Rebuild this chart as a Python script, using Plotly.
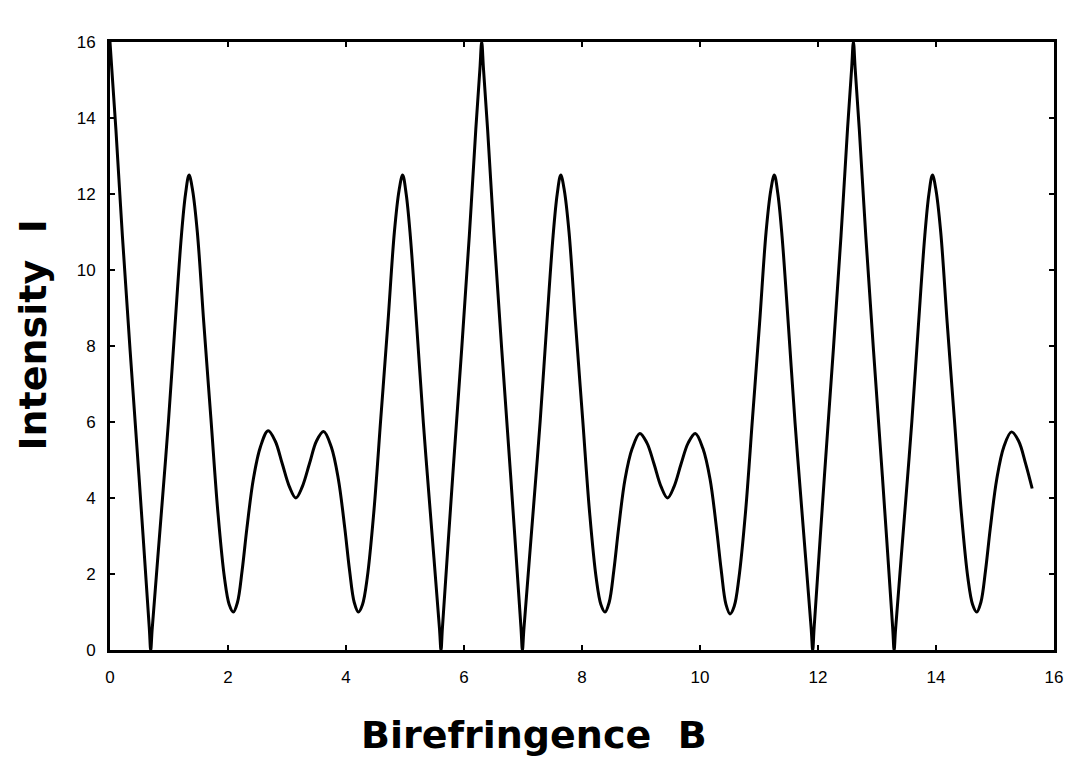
import plotly.graph_objects as go

# Intensity I versus birefringence B
birefringence = [
    0.00, 0.03, 0.10, 0.21, 0.34, 0.49, 0.665, 0.69, 0.715, 0.88, 0.99, 1.10, 1.21, 1.28, 1.34, 1.40, 1.48,
    1.59, 1.71, 1.83, 1.94, 2.02, 2.09, 2.16, 2.24, 2.32, 2.43, 2.55, 2.68, 2.80, 2.92, 3.04, 3.15,
    3.26, 3.38, 3.50, 3.62, 3.75, 3.87, 3.98, 4.06, 4.14, 4.21, 4.28, 4.36, 4.47, 4.59, 4.71, 4.82,
    4.90, 4.96, 5.02, 5.09, 5.20, 5.31, 5.42, 5.585, 5.61, 5.635, 5.81, 5.96, 6.09, 6.20, 6.27, 6.30,
    6.33, 6.40, 6.51, 6.64, 6.79, 6.965, 6.99, 7.015, 7.18, 7.29, 7.40, 7.51, 7.58, 7.64, 7.70, 7.78,
    7.89, 8.01, 8.13, 8.24, 8.32, 8.39, 8.46, 8.54, 8.62, 8.73, 8.85, 8.98, 9.10, 9.22, 9.34, 9.45,
    9.56, 9.68, 9.80, 9.92, 10.05, 10.17, 10.28, 10.36, 10.44, 10.51, 10.58, 10.66, 10.77, 10.89, 11.01, 11.12,
    11.20, 11.26, 11.32, 11.39, 11.50, 11.61, 11.72, 11.885, 11.91, 11.935, 12.11, 12.26, 12.39, 12.50, 12.57, 12.60,
    12.63, 12.70, 12.81, 12.94, 13.09, 13.265, 13.29, 13.315, 13.48, 13.59, 13.70, 13.81, 13.88, 13.94, 14.00, 14.08,
    14.19, 14.31, 14.43, 14.54, 14.62, 14.69, 14.76, 14.84, 14.92, 15.03, 15.15, 15.28, 15.40, 15.52, 15.63,
]
intensity = [
    16.0, 15.3, 13.7, 10.9, 7.9, 4.6, 0.6, 0.0, 0.55, 3.8, 6.0, 8.5, 10.9, 12.0, 12.5, 12.1, 11.0,
    8.6, 6.1, 3.6, 1.9, 1.2, 1.0, 1.25, 2.1, 3.2, 4.5, 5.35, 5.77, 5.5, 4.9, 4.3, 4.0,
    4.3, 4.9, 5.5, 5.75, 5.35, 4.5, 3.2, 2.1, 1.25, 1.0, 1.2, 1.9, 3.6, 6.1, 8.6, 11.0,
    12.1, 12.5, 12.0, 10.9, 8.5, 6.0, 3.8, 0.55, 0.0, 0.6, 4.6, 7.9, 10.9, 13.7, 15.3, 16.0,
    15.3, 13.7, 10.9, 7.9, 4.6, 0.6, 0.0, 0.55, 3.8, 6.0, 8.5, 10.9, 12.0, 12.5, 12.1, 11.0,
    8.6, 6.1, 3.6, 1.9, 1.2, 1.0, 1.25, 2.1, 3.2, 4.5, 5.3, 5.7, 5.45, 4.9, 4.3, 4.0,
    4.3, 4.9, 5.45, 5.7, 5.3, 4.5, 3.2, 2.1, 1.2, 0.95, 1.15, 1.9, 3.6, 6.1, 8.6, 11.0,
    12.1, 12.5, 12.0, 10.9, 8.5, 6.0, 3.8, 0.55, 0.0, 0.6, 4.6, 7.9, 10.9, 13.7, 15.3, 16.0,
    15.3, 13.7, 10.9, 7.9, 4.6, 0.6, 0.0, 0.55, 3.8, 6.0, 8.5, 10.9, 12.0, 12.5, 12.1, 11.0,
    8.6, 6.1, 3.6, 1.9, 1.2, 1.0, 1.25, 2.1, 3.2, 4.5, 5.35, 5.74, 5.5, 4.9, 4.25,
]
assert len(birefringence) == len(intensity)

x_ticks = [0, 2, 4, 6, 8, 10, 12, 14, 16]
y_ticks = [0, 2, 4, 6, 8, 10, 12, 14, 16]

fig = go.Figure(
    go.Scatter(
        x=birefringence,
        y=intensity,
        mode="lines",
        line=dict(color="black", width=3, shape="spline", smoothing=1.0),
        showlegend=False,
        hoverinfo="skip",
    )
)

axis_style = dict(
    ticks="inside",
    ticklen=5,
    tickwidth=2,
    tickcolor="black",
    showline=True,
    linewidth=3,
    linecolor="black",
    mirror="ticks",
    showgrid=False,
    zeroline=False,
    tickfont=dict(family="Liberation Sans", size=17, color="black"),
)

fig.update_xaxes(range=[0, 16], tickvals=x_ticks, ticklabelstandoff=10, **axis_style)
fig.update_yaxes(range=[0, 16], tickvals=y_ticks, ticklabelstandoff=8, **axis_style)

title_font = dict(family="DejaVu Sans", size=38, color="black", weight="bold")

fig.update_layout(
    width=1075,
    height=772,
    margin=dict(l=110, r=18, t=42, b=122),
    paper_bgcolor="white",
    plot_bgcolor="white",
    annotations=[
        dict(
            text="Birefringence\u00a0\u00a0B",
            xref="paper", yref="paper",
            x=0.449, y=-0.14,
            xanchor="center", yanchor="middle",
            showarrow=False,
            font=title_font,
        ),
        dict(
            text="Intensity\u00a0\u00a0I",
            xref="paper", yref="paper",
            x=-0.081, y=0.518,
            xanchor="center", yanchor="middle",
            textangle=-90,
            showarrow=False,
            font=title_font,
        ),
    ],
)

fig.write_html("out.html")
